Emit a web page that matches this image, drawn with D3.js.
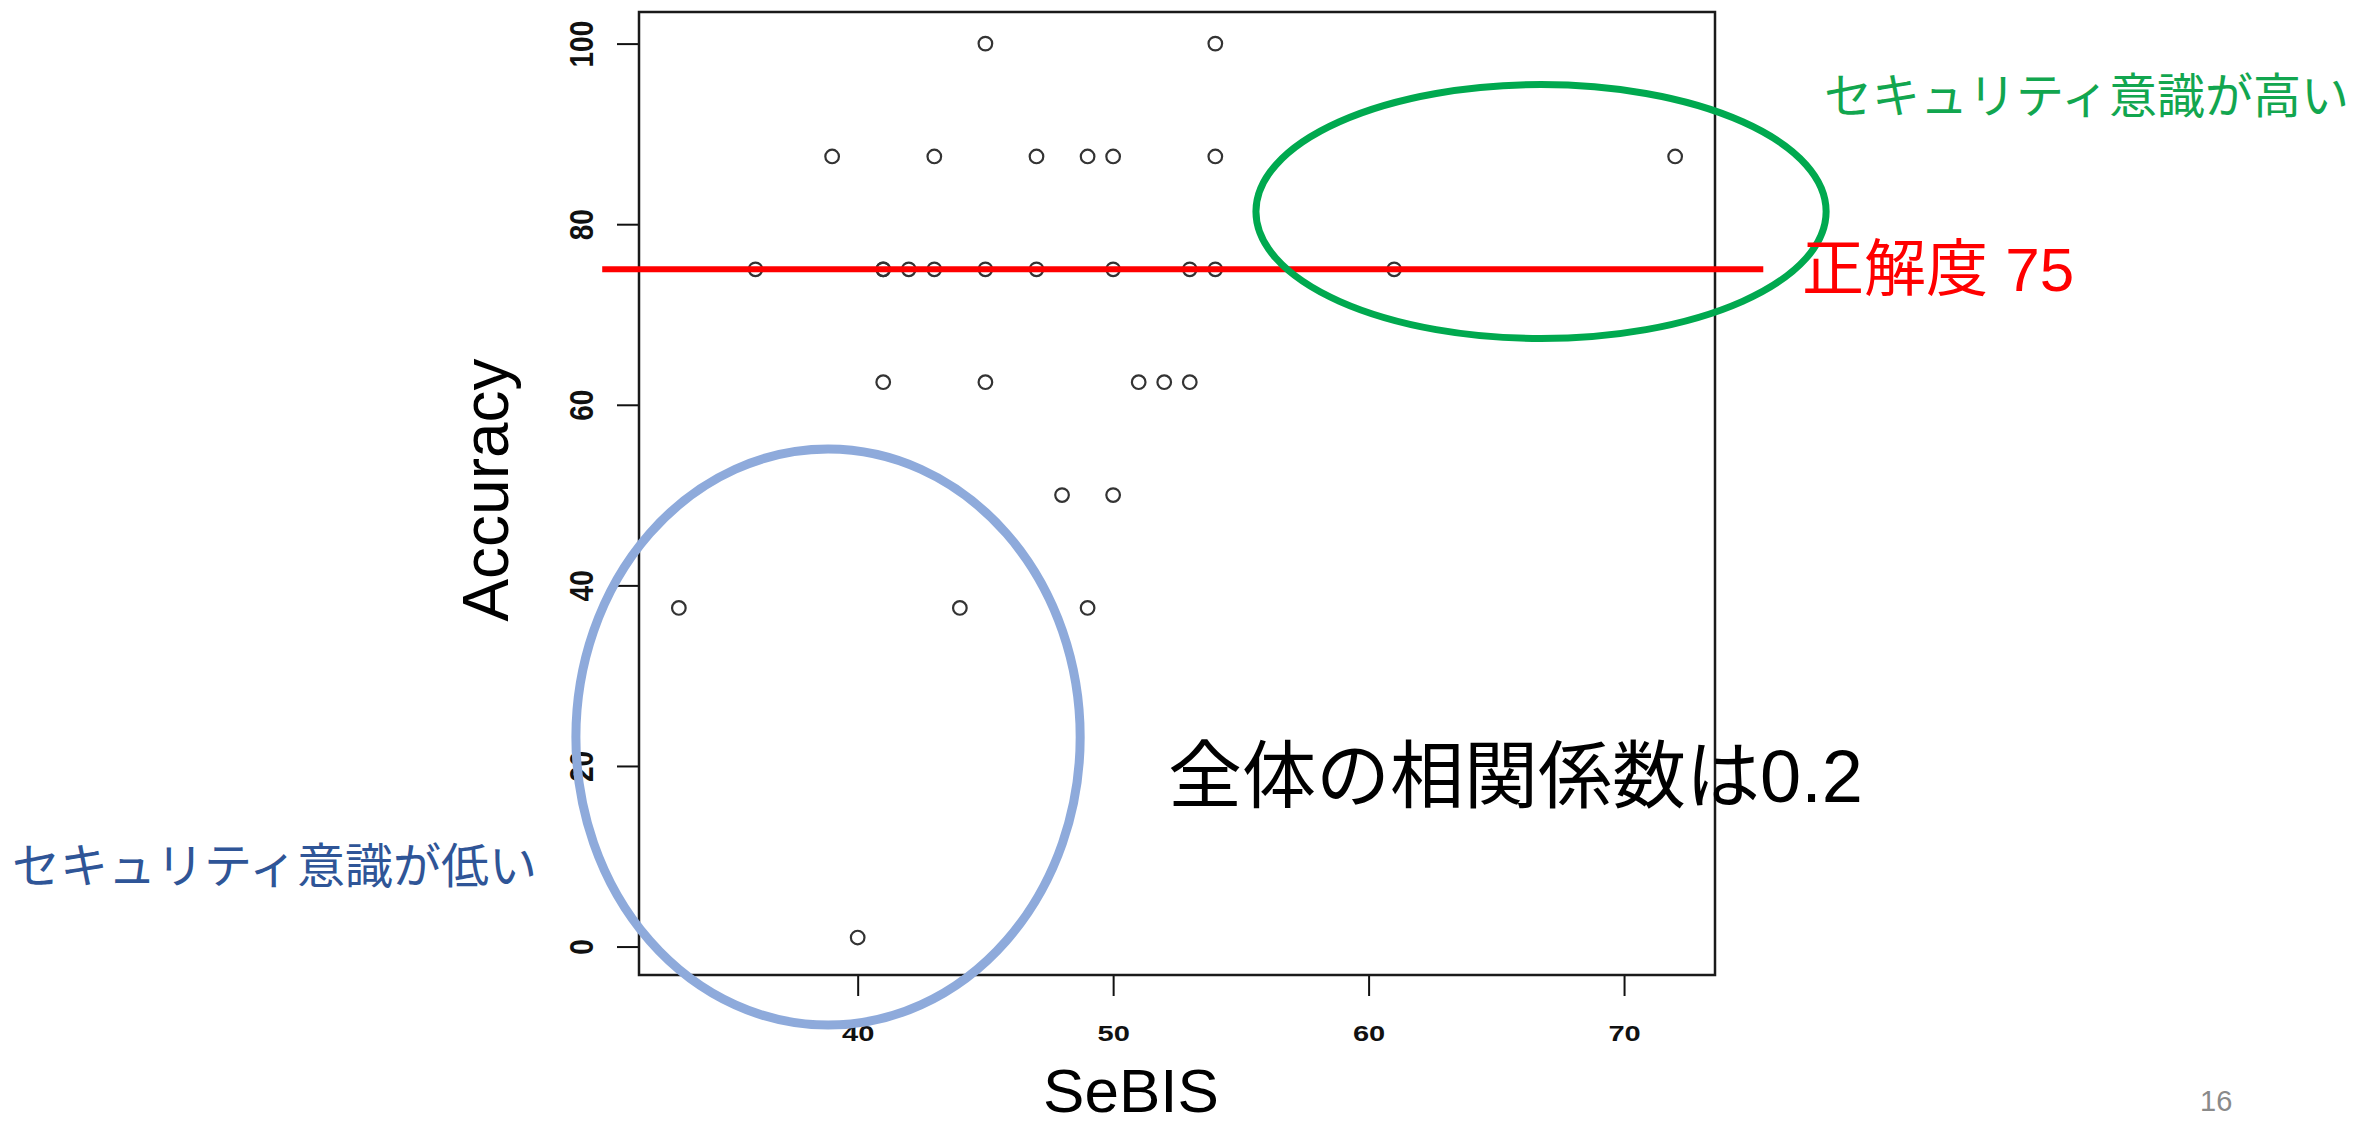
<!DOCTYPE html>
<html>
<head>
<meta charset="utf-8">
<script src="https://cdn.jsdelivr.net/npm/d3@7"></script>
<style>
  html, body { margin: 0; padding: 0; background: #fff; }
  svg { display: block; }
</style>
</head>
<body>
<svg id="chart" width="2356" height="1126"></svg>
<script>
// ---- data ----
const sebis    = [45, 54,
                  39, 43, 47, 49, 50, 54, 72,
                  36, 41, 41, 42, 43, 45, 47, 50, 53, 54, 61,
                  41, 45, 51, 52, 53,
                  48, 50,
                  33, 44, 49,
                  40];
const accuracy = [100, 100,
                  87.5, 87.5, 87.5, 87.5, 87.5, 87.5, 87.5,
                  75, 75, 75, 75, 75, 75, 75, 75, 75, 75, 75,
                  62.5, 62.5, 62.5, 62.5, 62.5,
                  50, 50,
                  37.5, 37.5, 37.5,
                  1];
const xTicks = [40, 50, 60, 70];
const yTicks = [0, 20, 40, 60, 80, 100];
const xDomain = [31.44, 73.56];
const yDomain = [-3.15, 103.5];

// annotations (in data units)
const refLineValue = 75;
const refLineFrom = 30;
const refLineTo = 75.45;
const refLabel = "正解度 75";
const ellipseNames = ["high", "low"];
const ellipseCx = [66.75, 38.84];
const ellipseCy = [81.4, 23.2];
const ellipseRx = [11.16, 9.87];
const ellipseRy = [14.06, 31.9];
const highLabel = "セキュリティ意識が高い";
const lowLabel = "セキュリティ意識が低い";
const corrLabel = "全体の相関係数は0.2";
const xTitle = "SeBIS";
const yTitle = "Accuracy";
const pageNo = "16";

// ---- layout ----
const plotL = 639, plotR = 1715, plotT = 12, plotB = 975;
const svg = d3.select("#chart");
const x = d3.scaleLinear().domain(xDomain).range([plotL, plotR]);
const y = d3.scaleLinear().domain(yDomain).range([plotB, plotT]);
const latin = "'Liberation Sans', Arial, 'Noto Sans CJK JP', sans-serif";
const cjk = "'Liberation Sans', 'Noto Sans CJK JP', sans-serif";

// axes
const xAxis = svg.append("g").attr("transform", `translate(0,${plotB})`)
  .call(d3.axisBottom(x).tickValues(xTicks).tickSize(21).tickFormat(d3.format("d")));
xAxis.select(".domain").remove();
xAxis.selectAll(".tick line").attr("stroke", "#111").attr("stroke-width", 2);
xAxis.selectAll(".tick text")
  .attr("y", 0).attr("dy", null)
  .attr("transform", "translate(0,66) scale(1.32,1)")
  .attr("font-family", latin).attr("font-size", 22).attr("font-weight", "bold")
  .attr("fill", "#111");

const yAxis = svg.append("g").attr("transform", `translate(${plotL},0)`)
  .call(d3.axisLeft(y).tickValues(yTicks).tickSize(22).tickFormat(d3.format("d")));
yAxis.select(".domain").remove();
yAxis.selectAll(".tick line").attr("stroke", "#111").attr("stroke-width", 2);
yAxis.selectAll(".tick text")
  .attr("x", 0).attr("dy", null)
  .attr("text-anchor", "middle")
  .attr("transform", "translate(-46,0) scale(1.2,1) rotate(-90)")
  .attr("font-family", latin).attr("font-size", 28).attr("font-weight", "bold")
  .attr("fill", "#111");

// frame
svg.append("rect")
  .attr("x", plotL).attr("y", plotT)
  .attr("width", plotR - plotL).attr("height", plotB - plotT)
  .attr("fill", "none").attr("stroke", "#1a1a1a").attr("stroke-width", 2.5);

// points
svg.append("g").selectAll("circle")
  .data(sebis.map((s, i) => ({ s, a: accuracy[i] })))
  .join("circle")
  .attr("cx", d => x(d.s))
  .attr("cy", d => y(d.a))
  .attr("r", 6.8)
  .attr("fill", "none")
  .attr("stroke", "#333")
  .attr("stroke-width", 2.2);

// reference line
svg.append("line")
  .attr("x1", x(refLineFrom)).attr("x2", x(refLineTo))
  .attr("y1", y(refLineValue)).attr("y2", y(refLineValue))
  .attr("stroke", "#ff0000").attr("stroke-width", 6);

// ellipses
const ellColors = ["#00a94f", "#8eaadb"];
const ellWidths = [7, 9];
svg.append("g").selectAll("ellipse")
  .data(ellipseNames.map((n, i) => i))
  .join("ellipse")
  .attr("cx", i => x(ellipseCx[i]))
  .attr("cy", i => y(ellipseCy[i]))
  .attr("rx", i => x(ellipseCx[i] + ellipseRx[i]) - x(ellipseCx[i]))
  .attr("ry", i => y(ellipseCy[i]) - y(ellipseCy[i] + ellipseRy[i]))
  .attr("fill", "none")
  .attr("stroke", i => ellColors[i])
  .attr("stroke-width", i => ellWidths[i]);

// texts
svg.append("text").text(refLabel)
  .attr("x", 1802).attr("y", 291)
  .attr("font-family", cjk).attr("font-size", 62).attr("fill", "#ff0000");

svg.append("text").text(highLabel)
  .attr("x", 1824).attr("y", 113)
  .attr("font-family", cjk).attr("font-size", 48).attr("fill", "#12a64f");

svg.append("text").text(lowLabel)
  .attr("x", 12).attr("y", 883)
  .attr("font-family", cjk).attr("font-size", 48).attr("fill", "#2f5597");

svg.append("text").text(corrLabel)
  .attr("x", 1168).attr("y", 802)
  .attr("font-family", cjk).attr("font-size", 74).attr("fill", "#000");

svg.append("text").text(xTitle)
  .attr("x", 1131).attr("y", 1112).attr("text-anchor", "middle")
  .attr("font-family", latin).attr("font-size", 62).attr("fill", "#000");

svg.append("text").text(yTitle)
  .attr("transform", "translate(508,490) rotate(-90)")
  .attr("text-anchor", "middle")
  .attr("font-family", latin).attr("font-size", 64).attr("fill", "#000");

svg.append("text").text(pageNo)
  .attr("x", 2200).attr("y", 1111)
  .attr("font-family", latin).attr("font-size", 29).attr("fill", "#8a8a8a");
</script>
</body>
</html>
